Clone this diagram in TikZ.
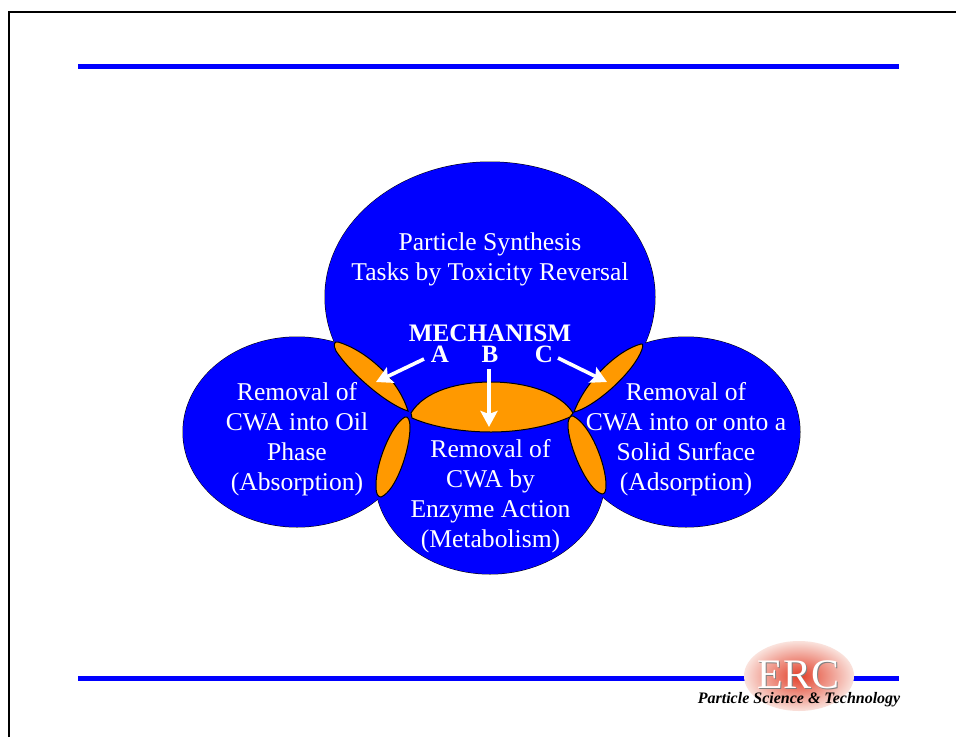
\documentclass[tikz,border=0pt]{standalone}
\usepackage{fontspec}
\setmainfont{Liberation Serif}
\usetikzlibrary{arrows.meta}
\definecolor{cblue}{RGB}{0,0,255}
\definecolor{corange}{RGB}{255,153,0}
\definecolor{logored}{RGB}{226,62,40}
\definecolor{logopale}{RGB}{250,226,220}
\tikzset{
  x=1pt,y=-1pt,
  bar/.style={cblue,line width=5pt},
  lbl/.style={text=white,font=\fontsize{25.6}{30}\selectfont,align=center,inner sep=0pt},
  head/.style={text=white,font=\fontsize{25.2}{26}\selectfont\bfseries,inner sep=0pt},
  ltr/.style={text=white,font=\fontsize{25}{25}\selectfont\bfseries,inner sep=0pt},
  arr/.style={white,line width=3.6pt,-{Stealth[length=16pt,width=17pt,inset=3pt]}},
  lens/.style={fill=corange,draw=black,line width=1pt},
  disc/.style={draw=black,line width=1pt}
}
\def\ET{(490,297) ellipse [x radius=165,y radius=135]}
\def\EL{(297,432) ellipse [x radius=114,y radius=95]}
\def\ER{(686,432) ellipse [x radius=114,y radius=95]}
\def\EB{(490,478) ellipse [x radius=115,y radius=96]}
\begin{document}
\begin{tikzpicture}
\useasboundingbox (0,0) rectangle (956,737);
\fill[white] (0,0) rectangle (956,737);
\draw[black,line width=2pt] (8.5,737) -- (8.5,11.5) -- (956,11.5);
\draw[bar] (78,66) -- (899,66);
\draw[bar] (78,678) -- (899,678);
% blue discs
\path[disc] \ET; \path[disc] \EL; \path[disc] \ER; \path[disc] \EB;
\fill[cblue] \ET; \fill[cblue] \EL; \fill[cblue] \ER; \fill[cblue] \EB;
% lenses
\path[lens] (338,342) .. controls (365,350) and (398,378) .. (408,411)
  .. controls (388,405) and (352,375) .. (336,351)
  .. controls (333,345) and (334,341) .. (338,342) -- cycle;
\path[lens] (641,344) .. controls (618,350) and (586,380) .. (574,412)
  .. controls (592,408) and (628,378) .. (640,354)
  .. controls (643,348) and (644,343) .. (641,344) -- cycle;
\path[lens] (411,413) .. controls (425,390) and (460,382) .. (491,382)
  .. controls (525,382) and (560,392) .. (573,413) -- (570,417)
  .. controls (545,428) and (515,432) .. (491,432)
  .. controls (465,432) and (435,428) .. (412,418) -- cycle;
\path[lens] (405,417) .. controls (391,425) and (375,465) .. (376,487)
  .. controls (376,494) and (378,497) .. (381,497)
  .. controls (396,491) and (410,450) .. (410,427)
  .. controls (410,420) and (408,416) .. (405,417) -- cycle;
\path[lens] (573,416) .. controls (591,425) and (606,465) .. (606,485)
  .. controls (606,491) and (605,494) .. (602,494)
  .. controls (587,490) and (568,445) .. (568,425)
  .. controls (568,418) and (571,415) .. (573,416) -- cycle;
% texts
\node[lbl] (top) at (490,259) {Particle Synthesis\\Tasks by Toxicity Reversal};
\node[head] (mech) at (490,333) {MECHANISM};
\node[ltr] (a) at (440,354) {A};
\node[ltr] (b) at (490,354) {B};
\node[ltr] (c) at (544,354) {C};
\node[lbl] (left) at (297,439) {Removal of\\CWA into Oil\\Phase\\(Absorption)};
\node[lbl] (right) at (686,439) {Removal of\\CWA into or onto a\\Solid Surface\\(Adsorption)};
\node[lbl] (bottom) at (490.5,496) {Removal of\\CWA by\\Enzyme Action\\(Metabolism)};
\coordinate (sa) at (424,359);
\coordinate (sb) at (489,369);
\coordinate (sc) at (558,358);
\coordinate (ea) at (376,382);
\coordinate (eb) at (489,427);
\coordinate (ec) at (607,382);
\draw[arr] (sa) -- (ea);
\draw[arr] (sb) -- (eb);
\draw[arr] (sc) -- (ec);
% logo
\shade[inner color=logored,outer color=logopale] (799,676) ellipse [x radius=55,y radius=35];
\node[inner sep=0pt,text=gray,font=\fontsize{42}{42}\selectfont] at (799.5,676) {ERC};
\node[inner sep=0pt,text=white,font=\fontsize{42}{42}\selectfont] (erc) at (798.5,675) {ERC};
\node[inner sep=0pt,font=\fontsize{16}{16}\selectfont\bfseries\itshape,anchor=east] (pst) at (900.5,699.5) {Particle Science \& Technology};
\end{tikzpicture}
\end{document}
